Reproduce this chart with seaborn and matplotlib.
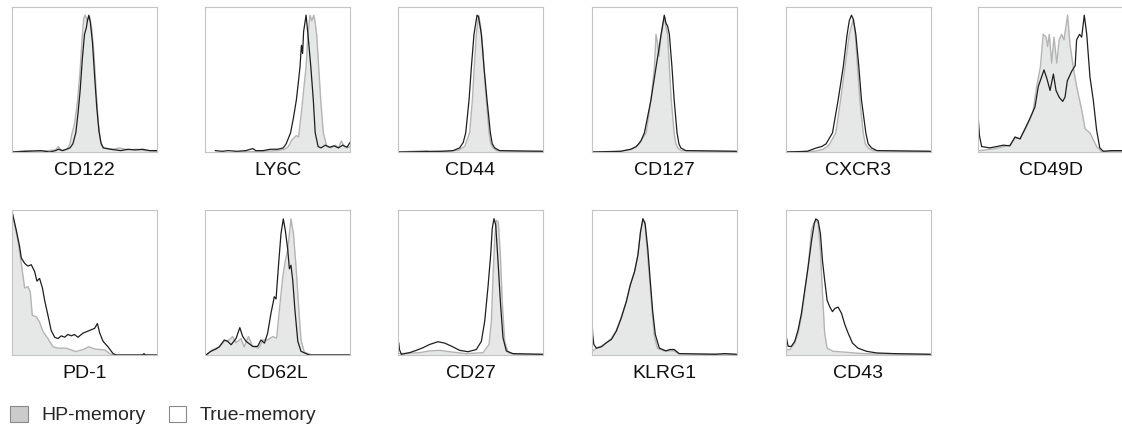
import pandas as pd
import matplotlib.pyplot as plt
import seaborn as sns
from matplotlib.patches import Patch

markers = ["CD122", "LY6C", "CD44", "CD127", "CXCR3", "CD49D",
           "PD-1", "CD62L", "CD27", "KLRG1", "CD43"]
groups = ["HP-memory", "True-memory"]

# histograms: (channel 0-100, % of max)
cd122_hp = [(0, 0), (10, 1), (20, 0.5), (30, 1.5), (32, 4), (34, 1), (38, 2), (40, 6), (41, 12),
            (43, 20), (45, 35), (47, 60), (48.5, 85), (49.5, 98), (50.5, 100), (52, 96), (53.5, 99),
            (55, 90), (56.5, 72), (58, 45), (59.5, 22), (61, 8), (63, 3), (70, 2), (74, 3),
            (80, 1.5), (86, 2), (92, 1), (100, 0.5)]
cd122_tm = [(0, 0), (10, 0.5), (20, 1), (26, 0), (30, 1), (32, 2), (35, 1), (40, 3), (42, 6),
            (44, 14), (45.5, 28), (47, 45), (48.5, 68), (50, 86), (51.3, 91), (52, 96), (53, 100),
            (54, 95), (55.5, 80), (57, 55), (58.5, 32), (60, 15), (61.5, 6), (63, 3), (68, 2),
            (75, 1), (80, 2), (85, 1.5), (90, 2), (95, 1), (100, 1)]

ly6c_hp = [(20, 0), (40, 0.5), (50, 1), (55, 2), (57.5, 4), (60, 9), (63, 12), (64.5, 11),
           (66.7, 31), (68.5, 50), (69.7, 62), (71, 86), (72.4, 100), (73.7, 96), (75, 100),
           (75.8, 96), (77, 86), (78.4, 62), (79.8, 38), (81.6, 14), (84, 4), (87, 3), (90, 5),
           (92, 3), (94, 8), (96, 4), (98, 3), (100, 4)]
ly6c_tm = [(7, 1), (12, 0.5), (16, 1), (22, 0.5), (28, 1), (33, 2.5), (35, 1), (40, 1), (45, 2),
           (50, 2), (54, 3), (56, 6), (59, 14), (61, 25), (63, 38), (64.5, 52), (65.5, 62),
           (66.5, 78), (67.3, 72), (68, 88), (69.7, 100), (71, 86), (73, 62), (74.7, 38), (76, 14),
           (78, 4), (80, 3), (83, 5), (86, 3.5), (89, 4.5), (92, 3), (95, 5), (98, 3.5), (100, 7)]

cd44_hp = [(0, 0), (20, 1), (22, 0.5), (35, 0.5), (42, 1.5), (46, 4), (49.4, 14), (51.3, 38),
           (52.6, 62), (54, 86), (55.6, 100), (57, 92), (58.5, 75), (60, 50), (61.5, 30),
           (62.8, 14), (64, 6), (65.5, 3), (68, 1), (80, 0.5), (100, 0.5)]
cd44_tm = [(0, 0), (30, 0.5), (38, 1), (42.5, 3), (45, 7), (46.7, 14), (49, 38), (50.6, 62),
           (52.4, 86), (54.5, 100), (55.5, 99), (57.5, 86), (59.3, 62), (61.4, 38), (63.7, 14),
           (65, 6), (66.7, 3), (70, 1), (100, 0.5)]

cd127_hp = [(0, 0), (20, 0.5), (28, 2), (33, 6), (37.7, 14), (41, 38), (43.4, 62), (44.5, 86),
            (45.5, 80), (46.5, 70), (48, 85), (49.2, 92), (50.2, 99), (51.3, 92), (52.5, 86),
            (53.7, 62), (55, 38), (57, 14), (58, 7), (59.4, 3), (62, 1), (100, 0.5)]
cd127_tm = [(0, 0), (20, 0.5), (27, 2), (31, 4), (34, 8), (36.5, 14), (41, 38), (44.5, 62),
            (46.3, 74), (48, 86), (50.2, 100), (51.4, 94), (52.5, 92), (53.7, 86), (55.5, 62),
            (57, 38), (59, 14), (60.3, 6), (61.6, 3), (65, 1), (100, 0.5)]

cxcr3_hp = [(0, 0), (20, 0.5), (26, 2), (30, 5), (34.7, 14), (38, 38), (41, 62), (44, 86),
            (46.7, 97), (48, 88), (49.7, 62), (51.3, 38), (53.6, 14), (55, 6), (57, 3), (60, 1),
            (100, 0.5)]
cxcr3_tm = [(0, 0), (15, 0.5), (21.4, 3), (25, 4), (28, 6), (32.4, 14), (36.3, 38), (39.8, 62),
            (42.5, 86), (44, 96), (45.5, 100), (46.8, 97), (48.5, 86), (50.6, 62), (52.4, 38),
            (55.4, 14), (57, 6), (59.3, 3), (63, 1), (100, 0.5)]

cd49d_hp = [(1, 1), (5, 1.5), (12, 2.5), (18, 4), (22, 5), (25.5, 10), (29, 10), (32.4, 16),
            (36, 24), (38, 30), (40.5, 48), (43, 62), (45, 86), (47, 84), (48, 77), (49.2, 86),
            (50.8, 65), (52.4, 84), (54.3, 65), (56, 82), (57.7, 86), (59.3, 82), (61.8, 100),
            (63.4, 79), (65.7, 62), (68, 48), (71.5, 31), (73.8, 17), (77.2, 14), (81.8, 4),
            (85, 0.5), (100, 0.5)]
cd49d_tm = [(0, 27), (1, 12), (2.5, 4), (8, 3), (13, 4), (17.5, 5), (22, 4.5), (25.5, 11),
            (29, 9.5), (32.4, 17), (36, 25), (39.3, 33), (41.6, 48), (43.9, 55), (45.5, 60),
            (47.4, 54), (49.7, 45), (52, 57), (53.8, 45), (56, 40), (58.4, 37), (60, 40),
            (61.6, 52), (64.6, 59), (67, 63), (68, 82), (70, 86), (71.5, 84), (73.3, 100),
            (75, 86), (77.2, 55), (79.5, 38), (81.8, 16), (84, 3), (86.4, 0.5), (92, 1),
            (100, 1)]

pd1_hp = [(0, 105), (4, 84), (6.4, 67), (8.7, 49), (11, 50), (12.6, 46), (14, 29), (16.8, 28),
          (19, 24), (21.4, 17), (24.8, 12), (28.3, 6), (31.7, 5), (37.5, 5), (44, 2.5), (49, 4),
          (53, 6), (57, 4.4), (60.5, 4), (64, 3.7), (67.4, 1), (70, 0), (100, 0)]
pd1_tm = [(0, 105), (3, 91), (5.3, 79), (6.4, 71), (8.7, 67), (11, 65), (13.3, 66), (15.6, 61),
          (17.2, 54), (19, 56), (21, 49), (22.5, 40), (24.8, 29), (27, 18), (29.4, 13),
          (31.7, 12), (34, 14), (36.3, 13), (38.5, 15), (41, 14), (43, 15), (45.5, 13), (49, 16),
          (53.6, 18), (57, 19.5), (58.9, 23), (60.5, 16), (62.8, 10), (66.2, 6), (69.7, 1),
          (72, 0), (90, 0), (91, 1), (92, 0), (100, 0)]

cd62l_hp = [(0.7, 0), (5.3, 3.9), (9.9, 6), (13.3, 10), (16.8, 11), (19, 13.5), (21.4, 9),
            (24.8, 12), (27, 6), (30, 13.5), (32.9, 6), (37, 5), (40, 11), (43.2, 11),
            (46.7, 13.5), (49.4, 12.3), (51.3, 33), (53.6, 57), (55.4, 69), (57, 76.5),
            (59.3, 99.5), (61, 88.6), (62.8, 64.4), (64.6, 35), (66.2, 11), (68.5, 2), (74, 0),
            (100, 0)]
cd62l_tm = [(0.7, 0), (4, 2.7), (7.6, 4.4), (9.9, 6), (13.3, 11), (15.6, 10), (18, 7.5),
            (21.4, 12), (24, 20), (26, 13.5), (28.3, 10), (32.9, 6.3), (36.3, 6.3), (38.6, 11),
            (41, 8.7), (43.2, 16), (45.5, 30.5), (47.8, 42.6), (49, 41), (50.8, 67), (52.4, 88.6),
            (54, 99.5), (55.4, 91), (57, 77.7), (58.2, 63), (59.3, 65.6), (60.5, 54.7), (62, 33),
            (64, 10), (66.2, 2.7), (69.7, 1), (72, 0), (100, 0)]

cd27_hp = [(1, 1), (15, 1.7), (21.8, 3), (28.7, 3.4), (35.6, 2.4), (47, 1), (58.6, 1.7),
           (62.8, 7.7), (64.4, 24.7), (65.5, 56), (66.7, 85), (67.8, 98.5), (69.2, 97),
           (70.6, 73), (72, 37), (73.6, 10), (75.9, 1.7), (80, 0.5), (100, 0.5)]
cd27_tm = [(0.5, 9), (1, 4), (2.3, 0.5), (8, 1.7), (12.6, 3.4), (17.2, 5.3), (21.8, 7.7),
           (27.6, 9.7), (32.2, 8.7), (36.8, 6.5), (42.5, 3.4), (48.3, 2.4), (54, 4), (57.5, 10),
           (59.8, 24.7), (62, 49), (63.9, 73), (65, 92.5), (66.2, 99.7), (67.4, 95), (69, 68),
           (70.6, 39), (72.4, 12.6), (74.7, 3), (79.3, 1), (100, 0.5)]

klrg1_hp = [(1, 3), (3.4, 5), (6.8, 6.5), (10.3, 9), (13.7, 12), (17.1, 18), (20.5, 27.5),
            (24, 39), (26.7, 51), (29.7, 61), (32, 73), (33.8, 90), (35.4, 97), (36.6, 98),
            (38.3, 78), (40, 56), (41.8, 32), (43.3, 14), (45.5, 5), (50, 3), (57, 3), (60, 1),
            (100, 0.5)]
klrg1_tm = [(0.4, 27), (0.8, 15), (1.6, 7.7), (3.4, 5), (6.8, 6), (10.3, 9), (13.7, 11.4),
            (17.1, 17.4), (20.5, 27), (24, 39), (26.7, 51), (29.7, 61), (32, 73), (33.8, 90),
            (35.4, 99.7), (37, 96), (38.8, 78), (40.4, 56), (42.2, 32), (44, 15), (46.8, 5),
            (51.4, 3), (54, 4), (57, 4), (60.5, 1), (85, 0.5), (92, 1), (100, 0.5)]

cd43_hp = [(0.2, 4), (3, 3.9), (6.4, 8.7), (8.7, 16), (11, 28), (13.3, 46), (15.6, 64.4),
           (18, 92), (19.8, 97), (20.9, 98.8), (22.5, 96), (24.1, 76.5), (25.5, 45), (27, 16),
           (28.7, 5), (32.9, 2.7), (42, 2), (51, 1.2), (60, 0.8), (100, 0.5)]
cd43_tm = [(0.2, 15), (1.8, 6.3), (4, 6.3), (6.4, 10), (8.7, 18.4), (11, 30.5), (13.3, 47.5),
           (15.6, 64.4), (18, 83.8), (19.8, 95.9), (20.9, 99.5), (22.5, 98.3), (24.1, 88.6),
           (25.5, 69), (27, 54.7), (28.7, 40), (30.6, 35), (32.4, 31.7), (34, 34), (36.3, 35),
           (38.6, 30.5), (41, 22), (43.2, 16), (46.2, 8.7), (50, 5), (55.9, 2.7), (62.8, 1.5),
           (75, 1), (100, 0.5)]

hp_curves = [cd122_hp, ly6c_hp, cd44_hp, cd127_hp, cxcr3_hp, cd49d_hp,
             pd1_hp, cd62l_hp, cd27_hp, klrg1_hp, cd43_hp]
tm_curves = [cd122_tm, ly6c_tm, cd44_tm, cd127_tm, cxcr3_tm, cd49d_tm,
             pd1_tm, cd62l_tm, cd27_tm, klrg1_tm, cd43_tm]

sns.set_style("white")
plt.rcParams['font.family'] = ['Liberation Sans', 'DejaVu Sans']

W, H = 1122, 430
fig = plt.figure(figsize=(W / 100, H / 100), dpi=100)

col_left = [12, 205, 398, 591.5, 785.5, 978]
row_top = [7, 210]
box = 145

for i, name in enumerate(markers):
    r, c = divmod(i, 6)
    ax = fig.add_axes([col_left[c] / W, (H - row_top[r] - box) / H, box / W, box / H])

    hp = pd.DataFrame(hp_curves[i], columns=["x", "y"])
    tm = pd.DataFrame(tm_curves[i], columns=["x", "y"])

    ax.fill_between(hp["x"], 0, hp["y"], color="#e6e7e7", lw=0)
    sns.lineplot(data=hp, x="x", y="y", ax=ax, color="#b4b4b4", lw=1.0,
                 estimator=None, sort=False)
    sns.lineplot(data=tm, x="x", y="y", ax=ax, color="#1e1e1e", lw=0.9,
                 estimator=None, sort=False)

    ax.set_xlim(0, 100)
    ax.set_ylim(0, 106)
    ax.set_xticks([])
    ax.set_yticks([])
    ax.set_xlabel("")
    ax.set_ylabel("")
    for s in ax.spines.values():
        s.set_color("#c4c4c4")
        s.set_linewidth(0.8)
    ax.text(0.5, -0.125, name, transform=ax.transAxes, ha="center", va="center",
            fontsize=14, color="#111111")

handles = [Patch(facecolor="#cbcbcb", edgecolor="#8a8a8a", lw=0.8),
           Patch(facecolor="white", edgecolor="#8a8a8a", lw=0.8)]
fig.legend(handles, groups, loc="center left", bbox_to_anchor=(10 / W, (H - 415) / H),
           ncol=2, frameon=False, fontsize=14, handlelength=0.9, handleheight=0.9,
           handletextpad=0.7, columnspacing=1.2, borderpad=0, borderaxespad=0)

fig.savefig("out.png", dpi=100)
